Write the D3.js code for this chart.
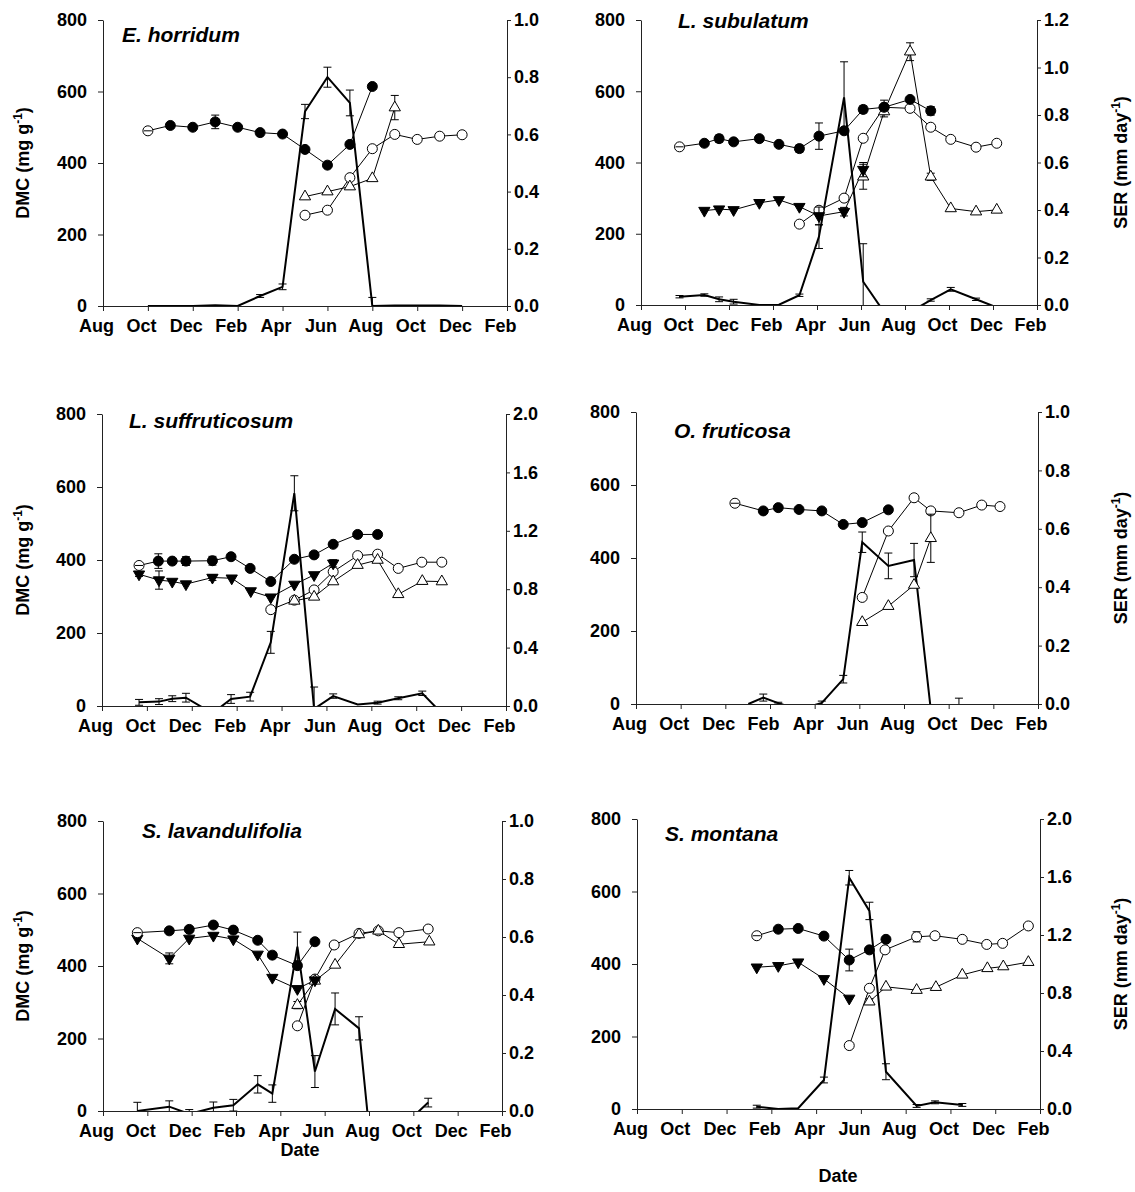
<!DOCTYPE html>
<html>
<head>
<meta charset="utf-8">
<script src="https://cdn.jsdelivr.net/npm/d3@7"></script>
<style>
  body { margin: 0; background: #fff; }
  svg text { font-family: Arial, "Liberation Sans", sans-serif; font-weight: bold; fill: #000; }
</style>
</head>
<body>
<div id="content"></div>
<script>
// month index on x: 0 = Aug of first year, 18 = Feb two years later
const monthLabels = ["Aug", "Oct", "Dec", "Feb", "Apr", "Jun", "Aug", "Oct", "Dec", "Feb"];
const dmcTicks = [0, 200, 400, 600, 800];

// each row: [month, value, error]
const horridumDark = [[2,490,6],[3,505,0],[4,500,0],[5,515,19],[6,500,0],[7,485,0],[8,481,0],[9,438,0],[10,394,0],[11,452,0],[12,614,8]];
const horridumLight = [[9,254,0],[10,268,0],[11,359,0],[12,440,0],[13,480,0],[14,466,0],[15,475,0],[16,479,0]];
const horridumUp = [[9,306,0],[10,320,0],[11,334,0],[12,357,0],[13,555,34]];
const horridumSER = [[2,0,0],[3,0,0],[4,0,0],[5,0.003,0],[6,0,0],[7,0.035,0.005],[8,0.067,0.01],[9,0.68,0.025],[10,0.8,0.035],[11,0.71,0.045],[12,0,0.03],[13,0.002,0],[14,0.002,0],[15,0.002,0],[16,0,0]];

const subulatumDark = [[1.75,444,6],[2.88,454,6],[3.55,467,10],[4.21,458,6],[5.38,467,6],[6.27,451,6],[7.2,439,10],[8.09,474,37],[9.23,489,6],[10.1,549,10],[11.05,555,8],[12.23,577,6],[13.17,545,12]];
const subulatumLight = [[7.2,227,0],[8.09,266,0],[9.23,300,8],[10.1,468,0],[11.05,555,20],[12.23,552,0],[13.17,499,8],[14.08,465,0],[15.23,443,0],[16.17,454,0]];
const subulatumDown = [[2.88,265,0],[3.55,269,0],[4.21,267,0],[5.38,287,0],[6.27,295,0],[7.2,276,0],[8.09,250,25],[9.23,262,12],[10.1,380,20]];
const subulatumUp = [[10.1,360,35],[11.05,543,15],[12.23,711,25],[13.17,360,10],[14.08,271,0],[15.23,262,0],[16.17,267,0]];
const subulatumSER = [[1.75,0.035,0.005],[2.88,0.042,0.005],[3.55,0.024,0.01],[4.21,0.014,0.01],[5.38,0,0],[6.27,0.001,0],[7.2,0.041,0.005],[8.09,0.288,0.05],[9.23,0.874,0.15],[10.1,0.098,0.16],[11.05,-0.03,0],[12.23,-0.03,0],[13.17,0.021,0.005],[14.08,0.066,0.008],[15.23,0.024,0.005],[16.17,-0.01,0]];

const suffDark = [[1.65,385,6],[2.51,397,20],[3.13,397,0],[3.74,397,12],[4.92,398,12],[5.75,409,0],[6.6,377,0],[7.52,341,0],[8.57,402,0],[9.45,414,0],[10.3,443,0],[11.39,470,0],[12.28,470,0]];
const suffLight = [[7.52,264,0],[8.57,290,0],[9.45,318,0],[10.3,368,0],[11.39,412,0],[12.28,416,0],[13.2,377,0],[14.25,394,0],[15.14,394,0]];
const suffDown = [[1.65,361,6],[2.54,345,25],[3.13,341,0],[3.74,334,0],[4.92,352,8],[5.78,350,0],[6.63,315,0],[7.52,298,0],[8.57,333,0],[9.45,359,0],[10.3,391,10]];
const suffUp = [[8.57,288,0],[9.45,299,0],[10.3,341,0],[11.39,386,0],[12.28,400,0],[13.2,306,0],[14.27,342,0],[15.14,341,0]];
const suffSER = [[1.65,0.025,0.02],[2.54,0.03,0.02],[3.13,0.05,0.02],[3.74,0.057,0.03],[4.92,-0.05,0],[5.75,0.048,0.03],[6.6,0.064,0.03],[7.52,0.436,0.075],[8.57,1.457,0.12],[9.45,-0.02,0.15],[10.3,0.068,0.015],[11.39,0.01,0],[12.28,0.023,0.01],[13.2,0.053,0.01],[14.27,0.087,0.015],[15.14,-0.05,0]];

const frutDark = [[4.43,550,6],[5.7,529,0],[6.37,538,0],[7.3,533,0],[8.32,529,0],[9.28,492,0],[10.13,497,0],[11.3,532,0]];
const frutLight = [[10.13,292,0],[11.3,474,0],[12.45,565,0],[13.2,529,0],[14.46,524,0],[15.48,545,0],[16.3,541,0]];
const frutUp = [[10.13,224,0],[11.3,268,0],[12.45,326,0],[13.2,454,66]];
const frutSER = [[5.03,0,0],[5.7,0.022,0.012],[6.37,0.003,0.003],[7.3,-0.02,0],[8.32,0.004,0.006],[9.28,0.085,0.013],[10.13,0.554,0.035],[11.3,0.473,0.044],[12.45,0.493,0.057],[13.2,-0.02,0],[14.46,-0.01,0.03]];

const lavDark = [[1.55,492,6],[2.99,497,0],[3.89,501,0],[4.98,513,0],[5.88,499,0],[6.98,471,0],[7.64,430,0],[8.77,401,0],[9.56,467,0]];
const lavLight = [[8.77,235,0],[9.56,364,0],[10.43,458,8],[11.55,490,0],[12.42,497,0],[13.35,492,0],[14.67,502,0]];
const lavDown = [[1.55,476,0],[2.99,421,15],[3.89,476,0],[4.98,484,0],[5.88,474,0],[6.98,432,0],[7.64,368,0],[8.77,337,0],[9.56,361,0]];
const lavUp = [[8.77,292,10],[9.56,359,0],[10.47,403,0],[11.55,487,0],[12.42,497,0],[13.35,460,0],[14.72,467,0]];
const lavSER = [[1.55,0,0.03],[2.99,0.015,0.02],[3.89,-0.01,0.015],[4.98,0.011,0.02],[5.88,0.02,0.02],[6.98,0.092,0.03],[7.64,0.06,0.03],[8.77,0.567,0.05],[9.56,0.136,0.055],[10.47,0.352,0.055],[11.55,0.285,0.04],[12.42,-0.38,0],[13.35,-0.065,0],[14.67,0.029,0.015]];

const montDark = [[5.35,478,5],[6.31,496,0],[7.2,498,0],[8.35,477,0],[9.48,411,30],[10.38,439,0],[11.12,468,0]];
const montLight = [[9.48,175,0],[10.38,333,0],[11.08,439,0],[12.49,475,14],[13.31,478,0],[14.53,468,0],[15.62,454,0],[16.33,457,0],[17.48,505,0]];
const montDown = [[5.35,391,0],[6.31,395,0],[7.2,405,0],[8.35,359,0],[9.48,305,0]];
const montUp = [[10.38,296,8],[11.12,337,0],[12.49,328,0],[13.35,336,0],[14.53,370,0],[15.65,388,0],[16.36,393,0],[17.48,405,0]];
const montSER = [[5.35,0.016,0.01],[6.31,0,0],[7.2,0.005,0],[8.35,0.2,0.02],[9.48,1.595,0.05],[10.38,1.366,0.06],[11.12,0.257,0.055],[12.49,0.021,0.01],[13.31,0.046,0.01],[14.53,0.028,0.01]];

const panels = [
    {title: "E. horridum", dark: horridumDark, light: horridumLight, down: [], up: horridumUp, ser: horridumSER,
     serMax: 1.0, serStep: 0.2, left: 103, right: 507, top: 20, bottom: 306, titleX: 122, titleY: 42, side: "left"},
    {title: "L. subulatum", dark: subulatumDark, light: subulatumLight, down: subulatumDown, up: subulatumUp, ser: subulatumSER,
     serMax: 1.2, serStep: 0.2, left: 641, right: 1037, top: 20, bottom: 305, titleX: 678, titleY: 28, side: "right"},
    {title: "L. suffruticosum", dark: suffDark, light: suffLight, down: suffDown, up: suffUp, ser: suffSER,
     serMax: 2.0, serStep: 0.4, left: 102, right: 506, top: 414, bottom: 706, titleX: 129, titleY: 428, side: "left"},
    {title: "O. fruticosa", dark: frutDark, light: frutLight, down: [], up: frutUp, ser: frutSER,
     serMax: 1.0, serStep: 0.2, left: 636, right: 1038, top: 412, bottom: 704, titleX: 674, titleY: 438, side: "right"},
    {title: "S. lavandulifolia", dark: lavDark, light: lavLight, down: lavDown, up: lavUp, ser: lavSER,
     serMax: 1.0, serStep: 0.2, left: 103, right: 502, top: 821, bottom: 1111, titleX: 142, titleY: 838, side: "left",
     dateX: 300, dateY: 1156},
    {title: "S. montana", dark: montDark, light: montLight, down: montDown, up: montUp, ser: montSER,
     serMax: 2.0, serStep: 0.4, left: 637, right: 1040, top: 819, bottom: 1109, titleX: 665, titleY: 841, side: "right",
     dateX: 838, dateY: 1182}
];

const svg = d3.select('#content').append('svg')
    .attr('width', 1135)
    .attr('height', 1192);

const fontSize = 18;

panels.forEach((p, i) => {
    const x = d3.scaleLinear().domain([0, 18]).range([p.left, p.right]);
    const yL = d3.scaleLinear().domain([0, 800]).range([p.bottom, p.top]);
    const yR = d3.scaleLinear().domain([0, p.serMax]).range([p.bottom, p.top]);
    const g = svg.append('g');

    const clipId = 'clip' + i;
    svg.append('clipPath').attr('id', clipId)
        .append('rect')
        .attr('x', p.left - 10).attr('y', p.top - 10)
        .attr('width', p.right - p.left + 20).attr('height', p.bottom - p.top + 10);

    // axes
    const xAxis = g.append('g').attr('transform', 'translate(0,' + p.bottom + ')')
        .call(d3.axisBottom(x).tickValues(d3.range(0, 19, 2))
            .tickFormat((d, k) => monthLabels[k]).tickSize(5).tickSizeOuter(0).tickPadding(8));
    xAxis.selectAll('text').attr('dx', -7);
    const leftAxis = g.append('g').attr('transform', 'translate(' + p.left + ',0)')
        .call(d3.axisLeft(yL).tickValues(dmcTicks).tickSize(5).tickSizeOuter(0).tickPadding(11));
    const serTicks = d3.range(0, p.serMax + 1e-9, p.serStep);
    const rightAxis = g.append('g').attr('transform', 'translate(' + p.right + ',0)')
        .call(d3.axisRight(yR).tickValues(serTicks).tickFormat(d3.format('.1f'))
            .tickSize(4).tickSizeOuter(0).tickPadding(3));
    [xAxis, leftAxis, rightAxis].forEach(a => {
        a.selectAll('text').style('font-size', fontSize + 'px').style('font-weight', 'bold')
            .style('font-family', 'Arial, "Liberation Sans", sans-serif');
        a.selectAll('path, line').attr('stroke', '#222');
    });

    // title
    g.append('text')
        .attr('x', p.titleX).attr('y', p.titleY)
        .style('font-size', '21px').style('font-style', 'italic')
        .text(p.title);

    // axis titles
    const midY = (p.top + p.bottom) / 2;
    const t = g.append('text')
        .attr('transform', 'translate(' + (p.side === 'left' ? 29 : 1127) + ',' + midY + ') rotate(-90)')
        .attr('text-anchor', 'middle')
        .style('font-size', fontSize + 'px');
    t.append('tspan').text(p.side === 'left' ? 'DMC (mg g' : 'SER (mm day');
    t.append('tspan').attr('baseline-shift', 'super').style('font-size', '12px').text('-1');
    t.append('tspan').text(')');

    if (p.dateX) {
        g.append('text')
            .attr('x', p.dateX).attr('y', p.dateY)
            .attr('text-anchor', 'middle')
            .style('font-size', fontSize + 'px')
            .text('Date');
    }

    const plot = g.append('g').attr('clip-path', 'url(#' + clipId + ')');

    // SER line (right axis)
    const serLine = d3.line().x(d => x(d[0])).y(d => yR(d[1]));
    plot.append('path').datum(p.ser)
        .attr('d', serLine)
        .attr('fill', 'none').attr('stroke', '#000').attr('stroke-width', 2);

    const errorBars = (data, y) => {
        const eb = plot.append('g').selectAll('g').data(data.filter(d => d[2] > 0)).enter().append('g')
            .attr('stroke', '#000').attr('stroke-width', 1);
        eb.append('line')
            .attr('x1', d => x(d[0])).attr('x2', d => x(d[0]))
            .attr('y1', d => y(d[1] - d[2])).attr('y2', d => y(d[1] + d[2]));
        eb.append('line')
            .attr('x1', d => x(d[0]) - 4).attr('x2', d => x(d[0]) + 4)
            .attr('y1', d => y(d[1] + d[2])).attr('y2', d => y(d[1] + d[2]));
        eb.append('line')
            .attr('x1', d => x(d[0]) - 4).attr('x2', d => x(d[0]) + 4)
            .attr('y1', d => y(d[1] - d[2])).attr('y2', d => y(d[1] - d[2]));
    };
    errorBars(p.ser, yR);

    // DMC series (left axis)
    const dmcLine = d3.line().x(d => x(d[0])).y(d => yL(d[1]));
    const series = [
        {data: p.light, shape: 'circle', fill: '#fff'},
        {data: p.up, shape: 'up', fill: '#fff'},
        {data: p.down, shape: 'down', fill: '#000'},
        {data: p.dark, shape: 'circle', fill: '#000', firstOpen: true}
    ];
    series.forEach(s => {
        if (!s.data.length) return;
        plot.append('path').datum(s.data)
            .attr('d', dmcLine)
            .attr('fill', 'none').attr('stroke', '#000').attr('stroke-width', 1);
    });
    series.forEach(s => {
        if (!s.data.length) return;
        errorBars(s.data, yL);
        const marks = plot.append('g').selectAll('.mark').data(s.data).enter();
        if (s.shape === 'circle') {
            marks.append('circle')
                .attr('cx', d => x(d[0])).attr('cy', d => yL(d[1])).attr('r', 5)
                .attr('fill', (d, k) => (s.firstOpen && k === 0) ? '#fff' : s.fill)
                .attr('stroke', '#000').attr('stroke-width', 1);
        } else {
            marks.append('path')
                .attr('d', d3.symbol().type(d3.symbolTriangle).size(55))
                .attr('transform', d => 'translate(' + x(d[0]) + ',' + yL(d[1]) + ')' + (s.shape === 'down' ? ' rotate(180)' : ''))
                .attr('fill', s.fill)
                .attr('stroke', '#000').attr('stroke-width', 1);
        }
    });
    // cross bar inside the first (open) point
    plot.append('line')
        .attr('x1', x(p.dark[0][0]) - 4).attr('x2', x(p.dark[0][0]) + 4)
        .attr('y1', yL(p.dark[0][1])).attr('y2', yL(p.dark[0][1]))
        .attr('stroke', '#000').attr('stroke-width', 1);
});
</script>
</body>
</html>
